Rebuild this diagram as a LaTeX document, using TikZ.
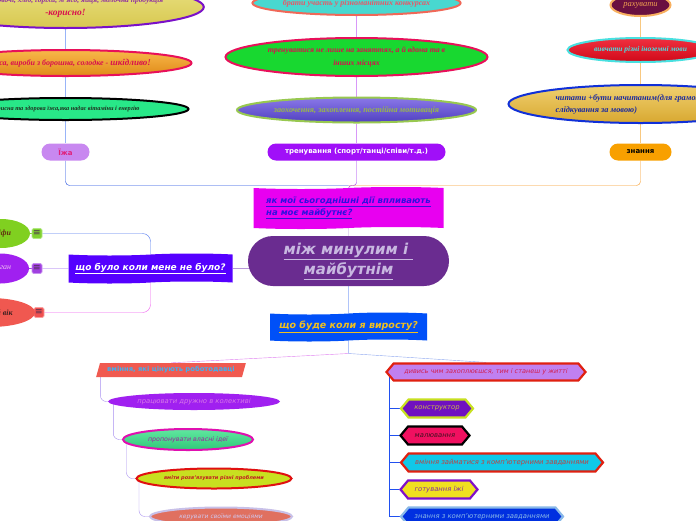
\documentclass[tikz,border=0pt]{standalone}
\usepackage{fontspec}
\setmainfont{Liberation Serif}
\setsansfont[ItalicFont={DejaVu Sans Oblique},BoldItalicFont={DejaVu Sans Bold Oblique}]{DejaVu Sans}
\usetikzlibrary{shapes.geometric,shapes.symbols,calc,backgrounds}
\newcommand\fsz[2]{\fontsize{#1}{#2}\selectfont}
\newcommand\serbi{\rmfamily\bfseries\itshape}
% colours
\definecolor{yelBd}{HTML}{7A10C8}\definecolor{yelT}{HTML}{E8E080}\definecolor{yelB}{HTML}{D8C850}
\definecolor{purTx}{HTML}{9030A0}\definecolor{crim}{HTML}{D8104E}\definecolor{crimBd}{HTML}{E8105A}
\definecolor{oraT}{HTML}{F8B84A}\definecolor{oraB}{HTML}{E08A18}\definecolor{grnE}{HTML}{28E888}
\definecolor{dkgrn}{HTML}{203020}\definecolor{ijaF}{HTML}{C888F0}\definecolor{ijaTx}{HTML}{E0207A}
\definecolor{cyF}{HTML}{48D8D0}\definecolor{cyBd}{HTML}{F06858}\definecolor{cyTx}{HTML}{E85868}
\definecolor{grnTwo}{HTML}{18D830}\definecolor{vioT}{HTML}{8A78E8}\definecolor{vioB}{HTML}{5040C0}
\definecolor{vioBd}{HTML}{98C850}\definecolor{vioTx}{HTML}{98B848}\definecolor{trF}{HTML}{A010F8}
\definecolor{marF}{HTML}{6A1040}\definecolor{marBd}{HTML}{F8B060}\definecolor{marTx}{HTML}{F0A050}
\definecolor{cyBdTwo}{HTML}{48E0E0}\definecolor{redT}{HTML}{F03040}\definecolor{redB}{HTML}{D00818}
\definecolor{gBd}{HTML}{1030D8}\definecolor{goldT}{HTML}{F0D070}\definecolor{goldB}{HTML}{D8A830}
\definecolor{gTx}{HTML}{1A2AA0}\definecolor{znF}{HTML}{F8A000}
\definecolor{yakF}{HTML}{E800F0}\definecolor{yakTx}{HTML}{3010E0}\definecolor{cenF}{HTML}{6A2C90}
\definecolor{cenTx}{HTML}{C8B8E0}\definecolor{buloF}{HTML}{5500FF}\definecolor{budeF}{HTML}{0050F8}
\definecolor{budeTx}{HTML}{F0C020}
\definecolor{icAF}{HTML}{80D030}\definecolor{icAD}{HTML}{B0E880}\definecolor{icBF}{HTML}{A040E0}
\definecolor{icBD}{HTML}{C890F0}\definecolor{icCF}{HTML}{F05050}\definecolor{icCD}{HTML}{F8A0A0}
\definecolor{icontx}{HTML}{503050}
\definecolor{lAF}{HTML}{80D020}\definecolor{lATx}{HTML}{603010}\definecolor{lBF}{HTML}{A020F0}
\definecolor{lBTx}{HTML}{F0C0F0}\definecolor{lCF}{HTML}{F05850}\definecolor{lCTx}{HTML}{402020}
\definecolor{umF}{HTML}{F05A50}\definecolor{umTx}{HTML}{40B0F0}\definecolor{pracF}{HTML}{A020F0}
\definecolor{pracTx}{HTML}{D878E8}\definecolor{propBd}{HTML}{E010B0}\definecolor{propT}{HTML}{60E8A0}
\definecolor{propB}{HTML}{30C878}\definecolor{propTx}{HTML}{A020A0}\definecolor{vmBd}{HTML}{E01010}
\definecolor{vmF}{HTML}{C8E020}\definecolor{vmTx}{HTML}{C02020}\definecolor{kerBd}{HTML}{C8C0E8}
\definecolor{kerF}{HTML}{E07060}\definecolor{kerTx}{HTML}{D0C8F0}
\definecolor{dyvF}{HTML}{C080F0}\definecolor{redBd}{HTML}{E02010}\definecolor{dyvTx}{HTML}{D02050}
\definecolor{konF}{HTML}{7010C0}\definecolor{konBd}{HTML}{C8E020}\definecolor{konTx}{HTML}{C8B848}
\definecolor{malF}{HTML}{F01060}\definecolor{malTx}{HTML}{401020}\definecolor{vzF}{HTML}{10C8E8}
\definecolor{vzTx}{HTML}{C04040}\definecolor{gotF}{HTML}{F0E020}\definecolor{gotBd}{HTML}{8010C8}
\definecolor{gotTx}{HTML}{8030A0}\definecolor{zkF}{HTML}{0030E0}\definecolor{zkBd}{HTML}{88B8E8}
\definecolor{lnLB}{HTML}{98B4F8}\definecolor{lnMV}{HTML}{D898F8}\definecolor{lnOR}{HTML}{F8C880}
\definecolor{lnBlue}{HTML}{1848E0}\definecolor{lnOrange}{HTML}{F89820}\definecolor{lnVio}{HTML}{A030F0}
\definecolor{lnLav}{HTML}{B898D8}\definecolor{lnBlueTwo}{HTML}{2058F0}\definecolor{lnPink}{HTML}{E080F0}
\definecolor{lnLBTwo}{HTML}{90A8F0}\definecolor{lnLeftB}{HTML}{5078F0}\definecolor{lnPurp}{HTML}{9860F0}
\definecolor{lnMag}{HTML}{F060F0}\definecolor{lnTree}{HTML}{A890F0}\definecolor{lnTreeB}{HTML}{2050F0}
\tikzset{
 ell/.style={ellipse, inner sep=0pt, line width=2pt, align=center, font=\serbi},
 softell/.style={ellipse, inner sep=0pt, align=center, font=\sffamily\itshape},
 pill/.style={rectangle, rounded corners=8.5pt, inner sep=0pt, minimum height=17pt, font=\sffamily\bfseries\fsz{7}{8}},
 tapebox/.style={tape, tape bend top=in and out, tape bend bottom=in and out, tape bend height=2pt, inner sep=0pt, align=left},
 hexbox/.style={signal, signal to=west and east, signal pointer angle=100, inner sep=0pt, minimum height=18pt, line width=2.2pt, font=\sffamily\itshape\fsz{6.8}{8}},
 icon/.style={rectangle, rounded corners=1.5pt, minimum size=10pt, inner sep=0pt, line width=0.8pt, font=\sffamily\fsz{9}{9}, text=icontx},
 conn/.style={line width=1.5pt},
}
\begin{document}
\begin{tikzpicture}[x=1pt,y=-1pt]
\useasboundingbox (0,0) rectangle (696,520);
\clip (0,0) rectangle (696,520);
% left column
\node[ell, draw=yelBd, top color=yelT, bottom color=yelB, minimum width=264pt, minimum height=42pt, text=purTx, font=\serbi\fsz{7.5}{13}] (fd1) at (65.5,7) {фрукти, овочі, хліб, горіхи, м'ясо, яйця, молочна продукція\\{\color{crim}\fsz{9.5}{13}-корисно!}};
\node[ell, draw=crimBd, top color=oraT, bottom color=oraB, minimum width=252pt, minimum height=26pt, text=crim, font=\serbi\fsz{8}{10}] (fd2) at (65.5,63) {ковбаса, вироби з борошна, солодке - {\fsz{9}{10}шкідливо!}};
\node[ell, draw=black, fill=grnE, minimum width=246pt, minimum height=22pt, text=dkgrn, font=\serbi\fsz{6.3}{8}] (fd3) at (65.5,109) {корисна та здорова їжа,яка надає вітаміни і енергію};
\node[pill, fill=ijaF, text=ijaTx, minimum width=48pt] (ija) at (65.5,152) {Їжа};
% middle column
\node[ell, draw=cyBd, fill=cyF, minimum width=207pt, minimum height=24pt, text=cyTx, font=\serbi\fsz{8}{10}] (m1) at (356.5,3) {брати участь у різноманітних конкурсах};
\node[ell, draw=crimBd, fill=grnTwo, minimum width=262pt, minimum height=38pt, text=crim, font=\serbi\fsz{7.8}{13}] (m2) at (356.5,57) {тренуватися не лише на заняттях, а й вдома та в\\ інших місцях};
\node[ell, draw=vioBd, top color=vioT, bottom color=vioB, minimum width=239pt, minimum height=25pt, text=vioTx, font=\serbi\fsz{8.2}{10}] (m3) at (356.5,110) {заохочення, захоплення, постійна мотивація};
\node[pill, fill=trF, text=white, minimum width=178pt] (tr) at (356.5,152) {тренування (спорт/танці/співи/т.д.)};
% right column
\node[ell, draw=marBd, fill=marF, minimum width=60pt, minimum height=22pt, text=marTx, font=\rmfamily\itshape\fsz{8.5}{10}] (r1) at (640.5,5) {рахувати};
\node[ell, draw=cyBdTwo, top color=redT, bottom color=redB, minimum width=146pt, minimum height=24pt, text=cyBdTwo, font=\serbi\fsz{7.5}{9}] (r2) at (640.5,50) {вивчати різні іноземні мови};
\node[ell, draw=gBd, top color=goldT, bottom color=goldB, minimum width=264pt, minimum height=38pt, text=gTx, align=left, font=\serbi\fsz{8.3}{12}] (r3) at (640.5,104) {читати +бути начитаним(для грамотності,\\слідкування за мовою)};
\node[pill, fill=znF, text=black, minimum width=62pt] (zn) at (640.5,152) {знання};
% centre
\node[tapebox, fill=yakF, text=yakTx, minimum width=190pt, minimum height=42pt, font=\sffamily\bfseries\itshape\fsz{8.5}{12}] (yak) at (348.5,208) {\underline{як мої сьогоднішні дії впливають}\\\underline{на моє майбутнє?}};
\node[rectangle, rounded corners=25pt, fill=cenF, text=cenTx, minimum width=201pt, minimum height=50pt, align=center, font=\sffamily\bfseries\itshape\fsz{15}{20}] (cen) at (348.5,261) {\underline{між минулим і }\\\underline{майбутнім}};
\node[tapebox, fill=buloF, text=white, minimum width=164pt, minimum height=30pt, font=\sffamily\bfseries\itshape\fsz{9}{11}] (bulo) at (150.5,268.5) {\underline{що було коли мене не було?}};
\node[tapebox, fill=budeF, text=budeTx, minimum width=157pt, minimum height=29pt, font=\sffamily\bfseries\itshape\fsz{9.5}{11}] (bude) at (348.5,327) {\underline{що буде коли я виросту?}};
% left branch
\node[icon, fill=icAF, draw=icAD] (i1) at (37,233.5) {≡};
\node[icon, fill=icBF, draw=icBD] (i2) at (37,268.5) {≡};
\node[icon, fill=icCF, draw=icCD] (i3) at (39,312.5) {≡};
\node[ellipse, fill=lAF, minimum width=58pt, minimum height=29pt, inner sep=0pt, text=lATx, font=\serbi\fsz{8}{9}] (l1) at (1,233.5) {скіфи};
\node[ellipse, fill=lBF, minimum width=58pt, minimum height=30pt, inner sep=0pt, text=lBTx, font=\rmfamily\itshape\fsz{8}{9}] (l2) at (0,268.5) {курган};
\node[ellipse, fill=lCF, minimum width=90pt, minimum height=29pt, inner sep=0pt, text=lCTx, font=\serbi\fsz{8}{9}] (l3) at (-10,312.5) {кам'яний вік};
% bottom left
\node[trapezium, trapezium left angle=63, trapezium right angle=117, trapezium stretches=true, fill=umF, minimum width=150pt, minimum height=14pt, inner sep=0pt, text=umTx, font=\sffamily\bfseries\fsz{6.8}{8}] (um) at (171,370) {вміння, які цінують роботодавці};
\node[softell, fill=pracF, minimum width=172pt, minimum height=17pt, text=pracTx, font=\sffamily\itshape\fsz{6.8}{8}] (prac) at (194,401.5) {працювати дружно в колективі};
\node[softell, draw=propBd, line width=2pt, top color=propT, bottom color=propB, minimum width=130pt, minimum height=21pt, text=propTx, font=\sffamily\itshape\fsz{6.3}{8}] (prop) at (188,439.5) {пропонувати власні ідеї};
\node[softell, draw=vmBd, line width=2pt, fill=vmF, minimum width=155pt, minimum height=20pt, text=vmTx, font=\sffamily\bfseries\itshape\fsz{5}{6}] (vm) at (214,478.5) {вміти розв'язувати різні проблеми};
\node[softell, draw=kerBd, line width=2pt, fill=kerF, minimum width=142pt, minimum height=18pt, text=kerTx, font=\sffamily\itshape\fsz{6}{7}] (ker) at (221,516.5) {керувати своїми емоціями};
% bottom right
\node[hexbox, fill=dyvF, draw=redBd, minimum width=199pt, minimum height=17pt, text=dyvTx, font=\sffamily\itshape\fsz{6.5}{8}] (dyv) at (486,372) {дивись чим захоплюєшся, тим і станеш у житті};
\node[hexbox, fill=konF, draw=konBd, minimum width=72pt, text=konTx] (h1) at (437,408.5) {конструктор};
\node[hexbox, fill=malF, draw=black, minimum width=69pt, text=malTx] (h2) at (435,435.5) {малювання};
\node[hexbox, fill=vzF, draw=redBd, minimum width=202pt, text=vzTx] (h3) at (502,462.5) {вміння займатися з комп'ютерними завданнями};
\node[hexbox, fill=gotF, draw=gotBd, minimum width=77pt, text=gotTx] (h4) at (439,489.5) {готування їжі};
\node[hexbox, fill=zkF, draw=zkBd, minimum width=162pt, text=zkBd] (h5) at (482,516.5) {знання з комп'ютерними завданнями};
% connectors
\coordinate (jt) at (348.5,185.5);
\coordinate (jb) at (348.5,353.5);
\begin{scope}[on background layer, conn]
\fill[white] (0,0) rectangle (696,520);
\draw[lnLB] (fd1) -- (fd2);
\draw[lnLB] (fd2) -- (fd3);
\draw[lnLB] (fd3) -- (ija);
\draw[lnMV] (m1) -- (m2);
\draw[lnMV] (m2) -- (m3);
\draw[lnMV] (m3) -- (tr);
\draw[lnOR] (r1) -- (r2);
\draw[lnOR] (r2) -- (r3);
\draw[lnOR] (r3) -- (zn);
\draw[lnBlue, rounded corners=4pt] (ija) |- (jt);
\draw[lnOrange, rounded corners=4pt] (zn) |- (jt);
\draw[lnVio, rounded corners=3pt] (tr) |- (jt) -- (yak);
\draw[lnLav] (yak) -- (cen);
\draw[lnLav] (bulo.east) -- (bulo.east -| cen.center);
\draw[lnBlueTwo] (cen) -- (bude);
\draw[lnBlueTwo] (bude) -- (jb);
\draw[lnPink] (jb) -- (um.north);
\draw[lnLBTwo] (jb) -- (dyv.north);
\draw[lnLeftB, rounded corners=8pt] (bulo.north) |- (i1);
\draw[lnPurp] (bulo) -- (i2);
\draw[lnMag, rounded corners=8pt] (bulo.south) |- (i3);
\draw[icAF] (i1) -- (l1);
\draw[icBF] (i2) -- (l2);
\draw[icCF] (i3) -- (l3);
\draw[lnTree, rounded corners=6pt] ($(um.bottom left corner)+(4.5,-2)$) |- (prac.west);
\draw[lnTree, rounded corners=6pt] ($(prac.west)+(5.5,0)$) |- (prop.west);
\draw[lnTree, rounded corners=6pt] ($(prop.west)+(4.5,0)$) |- (vm.west);
\draw[lnTree, rounded corners=6pt] ($(vm.west)+(3.5,0)$) |- (ker.west);
\draw[lnTreeB] ($(dyv.west)+(4,0)$) |- (h1.west);
\draw[lnTreeB] ($(dyv.west)+(4,0)$) |- (h2.west);
\draw[lnTreeB] ($(dyv.west)+(4,0)$) |- (h3.west);
\draw[lnTreeB] ($(dyv.west)+(4,0)$) |- (h4.west);
\draw[lnTreeB] ($(dyv.west)+(4,0)$) |- (h5.west);
\end{scope}
\end{tikzpicture}
\end{document}
